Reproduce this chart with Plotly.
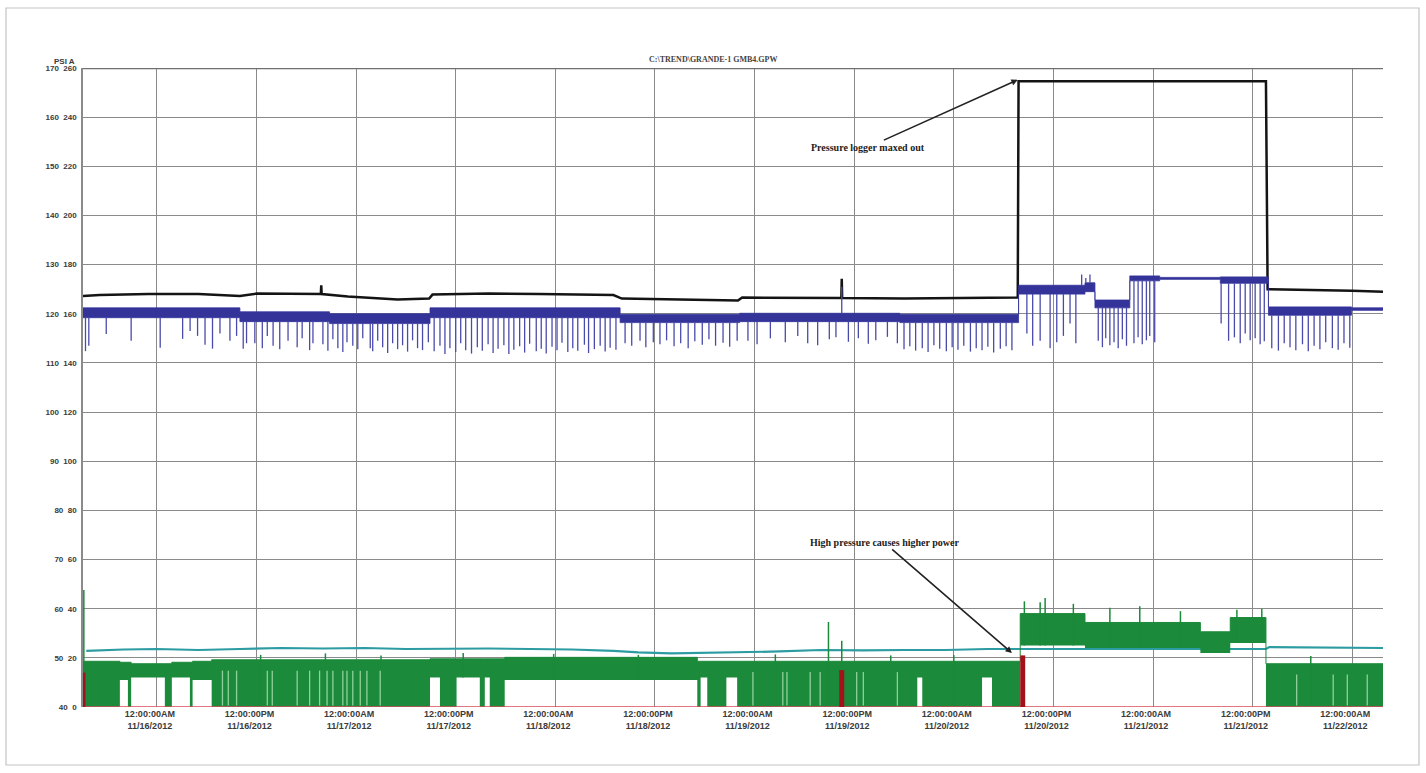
import numpy as np
import pandas as pd
import plotly.graph_objects as go

# ---------------- data (hours relative to 11/16/2012 00:00, PSI) ----------------
T0 = pd.Timestamp("2012-11-16 00:00:00")
START_H, END_H = -8.9, 147.7

title_text = "C:\\TREND\\GRANDE-1 GMB4.GPW"

psi_ticks = [40, 50, 60, 70, 80, 90, 100, 110, 120, 130, 140, 150, 160, 170]
amp_ticks = [0, 20, 40, 60, 80, 100, 120, 140, 160, 180, 200, 220, 240, 260]

x_tick_hours = [0, 12, 24, 36, 48, 60, 72, 84, 96, 108, 120, 132, 144]
x_tick_time = ["12:00:00AM", "12:00:00PM"] * 6 + ["12:00:00AM"]
x_tick_date = ["11/16/2012", "11/16/2012", "11/17/2012", "11/17/2012", "11/18/2012",
               "11/18/2012", "11/19/2012", "11/19/2012", "11/20/2012", "11/20/2012",
               "11/21/2012", "11/21/2012", "11/22/2012"]

# black trace (pressure)
black_h = [-8.9, -6.9, -1.0, 5.0, 10.0, 12.0, 19.75, 19.8, 19.85, 23.0, 29.0, 32.8, 33.2,
           40.0, 46.0, 55.0, 56.0, 62.0, 70.0, 70.5, 80.0, 82.45, 82.5, 82.55, 90.0, 100.0,
           103.7, 103.8, 133.6, 133.8, 138.0, 144.0, 147.7]
black_psi = [123.6, 123.8, 124.0, 124.0, 123.6, 124.1, 124.0, 125.8, 124.0, 123.5, 122.9, 123.1, 123.9,
             124.1, 124.0, 123.8, 123.1, 122.9, 122.7, 123.3, 123.2, 123.2, 127.1, 123.2, 123.1, 123.3,
             123.3, 167.3, 167.3, 125.0, 124.9, 124.7, 124.5]

# blue trace: band levels per segment
blue_seg_start = [-8.9, 10.0, 20.8, 32.9, 55.8, 70.2, 89.5, 103.8, 111.8, 113.0, 117.2, 120.8, 128.1, 133.9, 143.9]
blue_seg_lo = [119.2, 118.4, 118.0, 119.2, 118.2, 118.4, 118.2, 124.0, 124.5, 121.2, 126.7, 127.0, 126.2, 119.7, 120.7]
blue_seg_hi = [121.2, 120.4, 120.0, 121.2, 119.9, 120.1, 119.9, 125.8, 126.3, 122.8, 127.7, 127.4, 127.5, 121.4, 121.2]

# blue trace: momentary dips / spikes
blue_dip_h = [
    -8.6, -8.2, -6.1, -3.1, 0.4, 3.1, 4.0, 4.9, 5.8, 6.7, 7.6, 8.8, 9.6, 10.4, 10.8,
    11.8, 12.7, 13.3, 14.0, 14.8, 15.8, 16.9, 17.5, 18.4, 18.8, 20.0, 20.6, 21.2, 21.8, 22.4, 22.9,
    23.6, 24.2, 24.8, 25.7, 26.0, 26.6, 27.2, 27.8, 28.4, 29.0, 29.6, 30.2, 30.8, 31.4, 32.0, 32.7,
    33.4, 34.1, 34.7, 35.3, 36.0, 36.6, 37.2, 37.9, 38.6, 39.2, 39.9, 40.5, 41.1, 41.8, 42.4, 43.0, 43.7, 44.3,
    44.9, 45.7, 46.3, 46.9, 47.6, 48.2, 48.8, 49.5, 50.1, 50.7, 51.5, 52.0, 52.7, 53.4, 54.0, 54.6, 55.3,
    56.4, 57.2, 58.2, 58.9, 59.8, 60.6, 61.4, 62.3, 63.1, 64.0, 64.8, 65.7, 66.5, 67.3, 68.2, 69.0, 69.9,
    71.2, 72.3, 73.9, 75.7, 77.2, 78.4, 79.6, 81.0, 81.8, 82.5, 83.3, 84.5, 85.7, 86.6, 88.0, 89.2,
    90.0, 90.7, 91.4, 92.2, 92.9, 93.6, 94.3, 95.1, 95.8, 96.5, 97.2, 98.0, 98.7, 99.4, 100.1, 100.8, 101.6, 102.3, 103.0,
    104.8, 105.5, 106.4, 107.6, 108.4, 109.2, 110.0, 110.7,
    111.4, 111.9, 112.4,
    113.4, 113.9, 114.3, 114.8, 115.3, 115.8, 116.3, 116.8,
    117.7, 118.2, 118.7, 119.2, 119.6, 120.2,
    128.2, 129.1, 129.8, 130.5, 131.1, 131.7, 132.3, 132.9, 133.4,
    134.3, 135.1, 135.8, 136.5, 137.2, 138.0, 138.7, 139.4, 140.1, 140.8, 141.6, 142.3, 143.0, 143.7,
]
blue_dip_psi = [
    112.4, 113.5, 115.9, 114.5, 113.1, 114.9, 116.5, 115.5, 113.7, 112.9, 116.0, 114.5, 115.5, 112.9, 114.0,
    114.0, 113.0, 115.5, 113.5, 112.8, 114.5, 113.2, 115.0, 112.6, 114.0, 113.8, 112.5, 114.8, 113.0, 112.2, 114.2,
    113.5, 112.8, 115.0, 113.0, 112.4, 114.5, 113.2, 112.0, 114.0, 112.8, 113.6, 112.3, 114.6, 113.0, 112.6, 114.2,
    112.4, 113.5, 111.8, 113.0, 112.2, 114.0, 112.6, 111.9, 113.2, 112.5, 113.8, 112.0, 112.9, 113.6, 111.8, 112.7, 113.4, 112.1,
    113.9, 112.4, 112.9, 111.9, 113.3, 112.6, 114.1, 112.2, 113.0, 112.5, 113.7, 112.0, 112.8, 113.5, 112.3, 113.1, 112.7,
    114.0, 113.5, 114.5, 113.2, 114.2, 113.8, 114.6, 113.4, 114.0, 113.0, 114.4, 113.7, 114.8, 113.5, 114.1, 113.3, 114.5,
    114.5, 113.8, 115.0, 114.2, 115.5, 114.0, 113.6, 114.8, 115.2, 125.5, 114.3, 115.0, 113.9, 114.6, 115.3, 114.0,
    112.8, 113.4, 112.5, 113.0, 112.2, 113.6, 112.9, 112.4, 113.2, 112.7, 113.5, 112.3, 113.0, 112.6, 113.3, 112.1, 112.9, 113.4, 112.6,
    116.0, 113.5, 114.5, 113.0, 114.2, 115.5, 118.0, 114.0,
    128.0, 127.3, 128.0,
    114.5, 113.2, 115.0, 113.6, 114.2, 113.0, 114.8, 113.5,
    114.0, 115.2, 113.8, 114.6, 115.5, 114.2,
    118.0, 114.5, 115.2, 114.0, 116.0, 114.6, 115.0, 113.8, 114.4,
    113.0, 112.5, 114.0, 113.2, 112.6, 113.8, 112.4, 113.5, 112.8, 114.2, 113.0, 112.7, 114.0, 113.1,
]

# teal trace
teal_h = [-8.5, -4, 0, 5, 10, 15, 20, 25, 30, 35, 40, 45, 50, 55, 58, 62, 66, 70, 75, 80,
          85, 90, 95, 100, 104, 110, 120, 130, 133.6, 134, 140, 147.7]
teal_psi = [51.4, 51.7, 51.8, 51.6, 51.8, 52.0, 51.9, 52.0, 51.8, 51.9, 51.9, 51.8, 51.7, 51.4, 51.1, 50.9,
            51.0, 51.2, 51.3, 51.6, 51.5, 51.6, 51.6, 51.8, 51.8, 51.8, 51.8, 51.8, 51.8, 52.2, 52.1, 52.0]

# green trace: min / max per segment
green_seg_start = [-8.9, -4.46, -3.49, -3.1, 0.96, 1.8, 3.98, 4.3, 6.6, 32.9, 34.1, 36.1, 38.9, 39.5, 40.1,
                   41.9, 65.1, 65.5, 66.3, 68.6, 69.9, 91.6, 92.2, 99.4, 100.6, 104.0, 111.8, 125.7, 129.3, 133.6]
green_seg_lo = [40, 45.5, 40, 46, 40, 46, 40, 45.5, 40, 46, 40, 46, 40, 46, 40,
                45.5, 40, 46, 40, 46, 40, 46, 40, 46, 40, 52.5, 52.0, 51.0, 53.0, 40]
green_seg_hi = [49.3, 49.1, 49.1, 48.8, 48.8, 49.1, 49.1, 49.3, 49.6, 49.8, 49.8, 49.8, 49.8, 49.8, 49.8,
                50.1, 49.3, 49.3, 49.3, 49.3, 49.3, 49.3, 49.3, 49.3, 49.3, 59.0, 57.2, 55.3, 58.2, 48.8]
green_spike_h = [-8.8, 80.9, 82.5, 104.5, 106.4, 107.0, 110.4, 114.8, 118.4, 123.3, 130.1, 133.1,
                 12.5, 20.3, 27.0, 36.9, 47.8, 58.0, 74.5, 88.4, 96.0, 139.0]
green_spike_psi = [63.8, 57.3, 53.5, 61.5, 61.3, 62.2, 61.0, 60.2, 60.5, 59.5, 59.8, 60.0,
                   50.6, 50.9, 50.5, 51.0, 50.8, 50.6, 50.7, 50.5, 50.6, 50.4]
# brief moments where the green signal stays up inside dense regions (lighter streaks)
green_gap_h = [7.9, 8.6, 9.6, 13.3, 13.9, 16.9, 18.4, 19.6, 20.5, 21.2, 22.4, 22.9, 23.6, 24.5, 25.3, 26.9,
               71.8, 75.4, 75.9, 78.7, 79.9, 84.3, 85.1, 89.2, 137.3, 141.7, 143.4, 145.8]

# red trace: baseline and short bursts
red_h = [START_H, END_H]
red_psi = [40, 40]
red_burst_h0 = [-8.9, 82.2, 104.0]
red_burst_h1 = [-8.6, 82.8, 104.6]
red_burst_top = [47.0, 47.5, 50.5]

# annotations (data coordinates)
ann_texts = ["Pressure logger maxed out", "High pressure causes higher power"]
ann_text_h = [85.7, 87.6]
ann_text_psi = [153.9, 73.5]
ann_head_h = [103.7, 103.0]
ann_head_psi = [167.6, 51.0]

# ---------------- helpers ----------------
def ts(hours):
    return [None if v is None else (T0 + pd.Timedelta(hours=float(v))).strftime("%Y-%m-%d %H:%M:%S")
            for v in hours]


def seg_value(starts, vals, h):
    i = int(np.searchsorted(starts, h, side="right")) - 1
    return vals[max(i, 0)]


assert len(blue_dip_h) == len(blue_dip_psi)
assert len(black_h) == len(black_psi)
assert len(green_spike_h) == len(green_spike_psi)
assert len(green_seg_start) == len(green_seg_lo) == len(green_seg_hi)

fig = go.Figure()

# teal
fig.add_trace(go.Scatter(x=ts(teal_h), y=teal_psi, mode="lines",
                         line=dict(color="#2c9ca2", width=2.2), hoverinfo="skip"))

# green band
GREEN = "#1b8a3a"
gx = ts(green_seg_start + [END_H])
fig.add_trace(go.Scatter(x=gx, y=green_seg_lo + [green_seg_lo[-1]], mode="lines",
                         line=dict(width=0, shape="hv", color=GREEN), hoverinfo="skip"))
fig.add_trace(go.Scatter(x=gx, y=green_seg_hi + [green_seg_hi[-1]], mode="lines",
                         line=dict(width=1, shape="hv", color=GREEN), fill="tonexty",
                         fillcolor=GREEN, hoverinfo="skip"))
sx, sy = [], []
for h, v in zip(green_spike_h, green_spike_psi):
    sx += [h, h, None]
    sy += [seg_value(green_seg_start, green_seg_lo, h), v, None]
fig.add_trace(go.Scatter(x=ts(sx), y=sy, mode="lines", line=dict(color=GREEN, width=1.5),
                         hoverinfo="skip"))
gx2, gy2 = [], []
for h in green_gap_h:
    gx2 += [h, h, None]
    gy2 += [40.3, seg_value(green_seg_start, green_seg_hi, h) - 2.2, None]
fig.add_trace(go.Scatter(x=ts(gx2), y=gy2, mode="lines", line=dict(color="#8fd19c", width=1.3),
                         hoverinfo="skip"))

# red
fig.add_trace(go.Scatter(x=ts(red_h), y=red_psi, mode="lines", line=dict(color="#d9485a", width=1.5),
                         hoverinfo="skip"))
for h0, h1, top in zip(red_burst_h0, red_burst_h1, red_burst_top):
    fig.add_trace(go.Scatter(x=ts([h0, h0, h1, h1, h0]), y=[40, top, top, 40, 40], mode="lines",
                             fill="toself", fillcolor="#a3121a", line=dict(width=0, color="#a3121a"),
                             hoverinfo="skip"))

# black
fig.add_trace(go.Scatter(x=ts(black_h), y=black_psi, mode="lines",
                         line=dict(color="#141414", width=2.5), hoverinfo="skip"))

# blue band
BLUE = "#33339a"
bx = ts(blue_seg_start + [END_H])
fig.add_trace(go.Scatter(x=bx, y=blue_seg_lo + [blue_seg_lo[-1]], mode="lines",
                         line=dict(width=0.8, shape="hv", color=BLUE), hoverinfo="skip"))
fig.add_trace(go.Scatter(x=bx, y=blue_seg_hi + [blue_seg_hi[-1]], mode="lines",
                         line=dict(width=0.8, shape="hv", color=BLUE), fill="tonexty",
                         fillcolor=BLUE, hoverinfo="skip"))
dx, dy = [], []
for h, v in zip(blue_dip_h, blue_dip_psi):
    lo = seg_value(blue_seg_start, blue_seg_lo, h)
    hi = seg_value(blue_seg_start, blue_seg_hi, h)
    dx += [h, h, None]
    dy += [lo if v < lo else hi, v, None]
fig.add_trace(go.Scatter(x=ts(dx), y=dy, mode="lines", line=dict(color="#4a4aab", width=1.3),
                         hoverinfo="skip"))

# ---------------- layout ----------------
TICKFONT = dict(family="Liberation Sans, Arial, sans-serif", size=8, color="#3a3a3a")
fig.update_layout(
    width=1426, height=773,
    margin=dict(l=83, r=43, t=68, b=66),
    paper_bgcolor="white", plot_bgcolor="white",
    showlegend=False,
    xaxis=dict(
        type="date",
        range=ts([START_H, END_H]),
        tickmode="array",
        tickvals=ts(x_tick_hours),
        ticktext=[f"<b>{a}</b><br><b>{b}</b>" for a, b in zip(x_tick_time, x_tick_date)],
        tickfont=dict(family="Liberation Sans, Arial, sans-serif", size=9, color="#3a3a3a"),
        ticklabelshift=-7,
        showgrid=True, gridcolor="#8a8a8a", gridwidth=1,
        showline=False, zeroline=False, ticks="",
    ),
    yaxis=dict(
        range=[40, 170],
        tickmode="array",
        tickvals=psi_ticks,
        ticktext=[f"<b>{p}&nbsp;&nbsp;{a}</b>" for p, a in zip(psi_ticks, amp_ticks)],
        tickfont=TICKFONT,
        showgrid=True, gridcolor="#8a8a8a", gridwidth=1,
        showline=True, linecolor="#8a8a8a", linewidth=1.5,
        zeroline=False, ticks="", ticklabelstandoff=3,
    ),
    shapes=[
        dict(type="line", xref="paper", yref="y", x0=0, x1=1, y0=170, y1=170,
             line=dict(color="#707070", width=2.5)),
        dict(type="rect", xref="paper", yref="paper",
             x0=(6 - 83) / 1300, x1=(1419 - 83) / 1300, y0=(707 - 765) / 639, y1=(707 - 8) / 639,
             line=dict(color="#c4c4c4", width=1.2)),
    ],
)

fig.add_annotation(xref="paper", yref="paper", x=(713 - 83) / 1300, y=(707 - 59) / 639,
                   text=f"<b>{title_text}</b>", showarrow=False, yanchor="middle",
                   font=dict(family="Liberation Serif, Times New Roman, serif", size=8, color="#444"))
fig.add_annotation(xref="paper", yref="paper", x=(52 - 83) / 1300, y=(707 - 61) / 639,
                   text="<b>PSI A</b>", showarrow=False, yanchor="middle",
                   font=dict(family="Liberation Sans, Arial, sans-serif", size=8, color="#3a3a3a"))

for txt, th, tp, hh, hp in zip(ann_texts, ann_text_h, ann_text_psi, ann_head_h, ann_head_psi):
    fig.add_annotation(x=ts([hh])[0], y=hp, ax=ts([th])[0], ay=tp, axref="x", ayref="y",
                       xref="x", yref="y", text=f"<b>{txt}</b>", showarrow=True,
                       arrowhead=2, arrowsize=0.8, arrowwidth=1.6, arrowcolor="#222",
                       font=dict(family="Liberation Serif, Times New Roman, serif", size=10, color="#222"))

fig.write_html("out.html", config={"displayModeBar": False},
               post_script="document.body.style.margin='0';")
